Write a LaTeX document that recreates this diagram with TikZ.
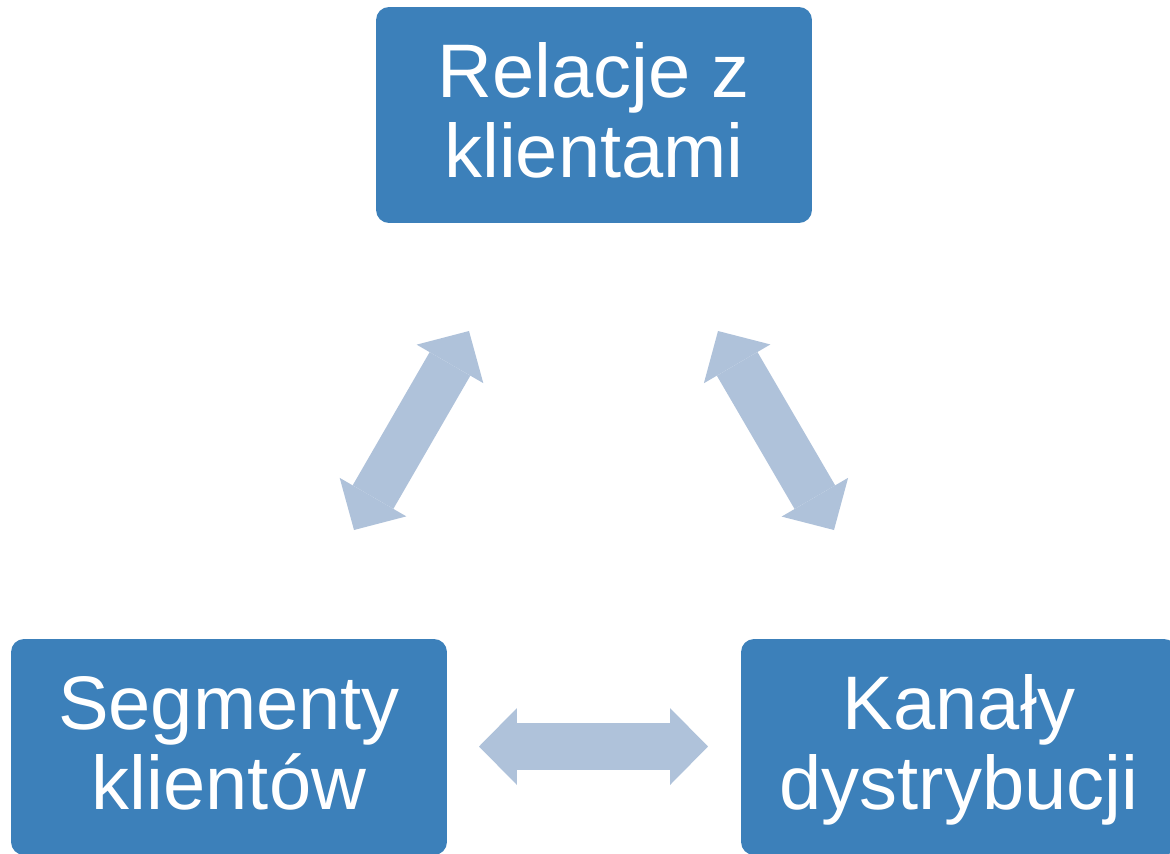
\documentclass[tikz,border=0pt]{standalone}
\usepackage{fontspec}
\setmainfont{Liberation Sans}
\usepackage{tikz}
\usetikzlibrary{arrows.meta, positioning}
\definecolor{boxc}{HTML}{3C80BA}
\definecolor{arrc}{HTML}{AFC2DA}
\newcommand{\twol}[2]{\begin{tabular}[t]{@{}c@{}}#1\\#2\end{tabular}}

\begin{document}
\begin{tikzpicture}[x=0.02cm, y=-0.02cm,
      box/.style={rounded corners=0.26cm, fill=boxc, text=white,
                  minimum width=8.72cm, minimum height=4.32cm, inner sep=0pt,
                  text height=1.3cm, text depth=2cm,
                  font=\fontsize{43.2pt}{45.5pt}\selectfont},
      dbl/.style={draw=arrc, line width=0.94cm,
                  {Triangle[width=1.54cm, length=0.76cm, line width=0pt]}-{Triangle[width=1.54cm, length=0.76cm, line width=0pt]}}]
    \useasboundingbox (0,0) rectangle (1170,853);
    \node[box] (rel) at (594,115) {\twol{Relacje z}{klientami}};
    \node[box] (seg) at (229,747) {\twol{Segmenty}{klientów}};
    \node[box] (kan) at (959,747) {\twol{Kanały}{dystrybucji}};
    % ends of the block arrows
    \coordinate (sl1) at (354,530); \coordinate (sl2) at (469,331);
    \coordinate (sr1) at (718,331); \coordinate (sr2) at (834,530);
    \coordinate (h1) at (479,746.5); \coordinate (h2) at (708,746.5);
    \draw[dbl] (sl1)--(sl2); \draw[dbl] (sr1)--(sr2); \draw[dbl] (h1)--(h2);
  \end{tikzpicture}
\end{document}
